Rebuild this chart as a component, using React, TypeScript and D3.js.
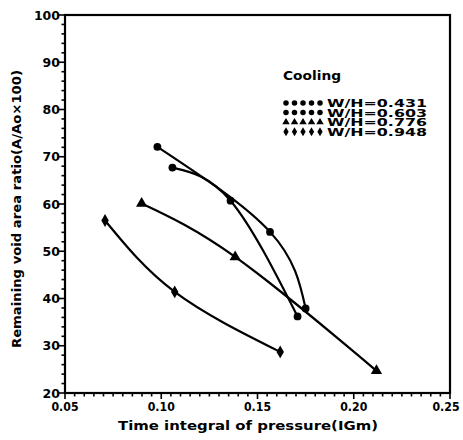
import * as d3 from "d3";

// series values: [time integral, remaining ratio]
const wh431: [number, number][] = [[0.098, 72.1], [0.1565, 54.1], [0.175, 37.9]];
const wh603: [number, number][] = [[0.1058, 67.7], [0.136, 60.7], [0.1708, 36.2]];
const wh776: [number, number][] = [[0.0898, 60.1], [0.1384, 48.8], [0.2118, 24.7]];
const wh948: [number, number][] = [[0.0708, 56.5], [0.107, 41.4], [0.1618, 28.7]];

const seriesNames = ["W/H=0.431", "W/H=0.603", "W/H=0.776", "W/H=0.948"];
const xTicks = [0.05, 0.1, 0.15, 0.2, 0.25];
const yTicks = [20, 30, 40, 50, 60, 70, 80, 90, 100];

const font = "'DejaVu Sans', sans-serif";

export default function App() {
    const margin = {top: 15, right: 13, bottom: 47, left: 65};
    const width = 463, height = 440;

    const x = d3.scaleLinear().domain([0.05, 0.25]).range([margin.left, width - margin.right]);
    const y = d3.scaleLinear().domain([20, 100]).range([height - margin.bottom, margin.top]);

    const line = d3.line<[number, number]>()
        .x(d => x(d[0]))
        .y(d => y(d[1]))
        .curve(d3.curveNatural);

    const all = [wh431, wh603, wh776, wh948];
    const shapes = [d3.symbolCircle, d3.symbolCircle, d3.symbolTriangle, d3.symbolDiamond];

    const xMinor = d3.range(0.05, 0.2501, 0.005);
    const yMinor = d3.range(20, 100.01, 2);

    const legX = 283, legY = 103;

    return (
        <svg width={width} height={height} style={{position: "absolute", left: 0, top: 0, background: "#fff"}}>
            {/* frame */}
            <rect x={x(0.05)} y={y(100)} width={x(0.25) - x(0.05)} height={y(20) - y(100)}
                  fill="none" stroke="#000" strokeWidth={2.2}/>

            {/* x ticks */}
            {xMinor.map((t, i) => (
                <line key={"xm" + i} x1={x(t)} x2={x(t)} y1={y(20)} y2={y(20) + (i % 10 === 0 ? 6 : 3.5)}
                      stroke="#000" strokeWidth={1.6}/>
            ))}
            {xTicks.map(t => (
                <text key={"xt" + t} x={x(t) - (t === 0.25 ? 4 : 0)} y={y(20) + 18} textAnchor="middle"
                      fontFamily={font} fontWeight="bold" fontSize={12}
                      textLength={27} lengthAdjust="spacingAndGlyphs">{t.toFixed(2)}</text>
            ))}

            {/* y ticks */}
            {yMinor.map((t, i) => (
                <line key={"ym" + i} x1={x(0.05)} x2={x(0.05) - (i % 5 === 0 ? 6 : 3.5)} y1={y(t)} y2={y(t)}
                      stroke="#000" strokeWidth={1.6}/>
            ))}
            {yTicks.map(t => (
                <text key={"yt" + t} x={x(0.05) - 5} y={y(t) + 4.5} textAnchor="end"
                      fontFamily={font} fontWeight="bold" fontSize={12.5}>{t}</text>
            ))}

            {/* axis titles */}
            <text x={248} y={430} textAnchor="middle" fontFamily={font} fontWeight="bold" fontSize={13}
                  textLength={260} lengthAdjust="spacingAndGlyphs">Time integral of pressure(IGm)</text>
            <text transform={`translate(21,209) rotate(-90)`} textAnchor="middle" fontFamily={font}
                  fontWeight="bold" fontSize={11.5} textLength={278} lengthAdjust="spacingAndGlyphs">
                Remaining void area ratio(A/Ao×100)
            </text>

            {/* curves */}
            {all.map((s, i) => (
                <path key={"c" + i} d={line(s) || ""} fill="none" stroke="#000" strokeWidth={2.2}/>
            ))}
            {all.map((s, i) => s.map((d, j) => (
                <path key={"p" + i + "-" + j} transform={`translate(${x(d[0])},${y(d[1])})`}
                      d={d3.symbol().type(shapes[i]).size(i === 2 ? 55 : 48)() || ""} fill="#000"/>
            )))}

            {/* legend */}
            <text x={legX} y={80} fontFamily={font} fontWeight="bold" fontSize={12.5}
                  textLength={58} lengthAdjust="spacingAndGlyphs">Cooling</text>
            {seriesNames.map((n, i) => (
                <g key={"l" + i} transform={`translate(0,${legY + i * 9.6})`}>
                    {d3.range(5).map(k => (
                        <path key={k} transform={`translate(${legX + 3 + k * 8.5},0)`}
                              d={d3.symbol().type(shapes[i]).size(24)() || ""} fill="#000"/>
                    ))}
                    <text x={327} y={4} fontFamily={font} fontWeight="bold" fontSize={10}
                          textLength={100} lengthAdjust="spacingAndGlyphs">{n}</text>
                </g>
            ))}
        </svg>
    );
}
